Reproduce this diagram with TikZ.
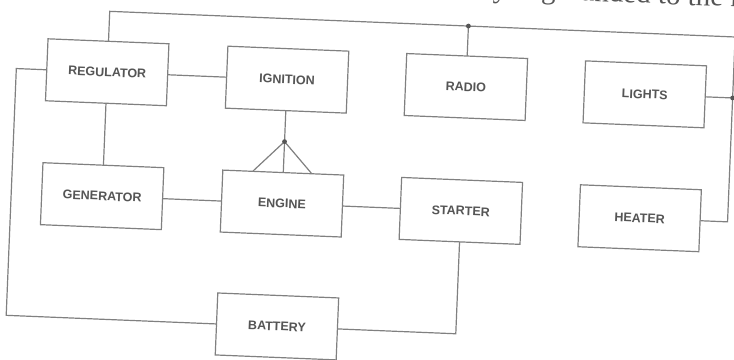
\documentclass[tikz,border=0pt]{standalone}
\usepackage{fontspec}
\setsansfont{Liberation Sans}
\newfontfamily\captionserif{Liberation Serif}
\usepackage{tikz}
\usetikzlibrary{positioning,calc}
\definecolor{wiregray}{RGB}{128,128,128}
\definecolor{inkgray}{RGB}{85,85,85}

\begin{document}
\begin{tikzpicture}[x=1pt, y=1pt, line width=1.2pt,
    unit/.style={draw=wiregray, fill=white, minimum width=\bw, minimum height=\bh,
                 text=inkgray, font=\sffamily\bfseries\fontsize{12.5}{14}\selectfont},
    wire/.style={draw=wiregray, line cap=round},
    junction/.style={fill=inkgray}]
  \def\bw{121pt}  \def\bh{62pt}

  \useasboundingbox (0,0) rectangle (734,-359);
  \fill[white] (0,0) rectangle (734,-359);
  \clip (0,0) rectangle (734,-359);

  \begin{scope}[shift={(367,-180)}, rotate=-2.35, transform shape]
  % top row
  \node[unit] (reg) at (-264,97) {REGULATOR};
  \node[unit] (ign) at ($(reg)+(180,0)$) {IGNITION};
  \node[unit] (radio) at ($(ign)+(179,0)$) {RADIO};
  \node[unit] (lights) at ($(radio)+(179,0)$) {LIGHTS};

  % middle row
  \node[unit] (gen) at ($(reg)+(0,-124)$) {GENERATOR};
  \node[unit] (eng) at ($(ign)+(0,-124)$) {ENGINE};
  \node[unit] (start) at ($(radio)+(0,-124)$) {STARTER};
  \node[unit] (heat) at ($(lights)+(0,-124)$) {HEATER};

  \node[unit] (bat) at ($(eng)+(0,-123)$) {BATTERY};

  \node[anchor=base west, text=inkgray, inner sep=0pt,
        font=\captionserif\fontsize{29}{32}\selectfont] (caption) at (108,188)
      {ry is grounded to the m};

  \coordinate (topr) at (362,158);
  \coordinate (leftx) at (-355,0);
  \coordinate (knot) at ($(ign.south)!0.5!(eng.north)$);

  \draw[wire] (reg.north) |- (topr) |- (heat.east);
  \draw[wire] (radio.north) -- (radio.north |- topr);
  \draw[wire] (lights.east) -- (lights.east -| topr);
  \draw[wire] (reg) -- (ign);
  \draw[wire] (reg) -- (gen);
  \draw[wire] (gen) -- (eng);
  \draw[wire] (eng) -- (start);
  \draw[wire] (ign.south) -- (knot);
  \draw[wire] (knot) -- ($(eng.north)+(-30,0)$);
  \draw[wire] (knot) -- (eng.north);
  \draw[wire] (knot) -- ($(eng.north)+(28,0)$);
  \draw[wire] (reg.west) -- (reg.west -| leftx) |- (bat.west);
  \draw[wire] (bat.east) -| (start.south);

  \fill[junction] (radio.north |- topr) circle (2.4);
  \fill[junction] (lights.east -| topr) circle (2.4);
  \fill[junction] (knot) circle (2.4);
  \end{scope}
\end{tikzpicture}
\end{document}
